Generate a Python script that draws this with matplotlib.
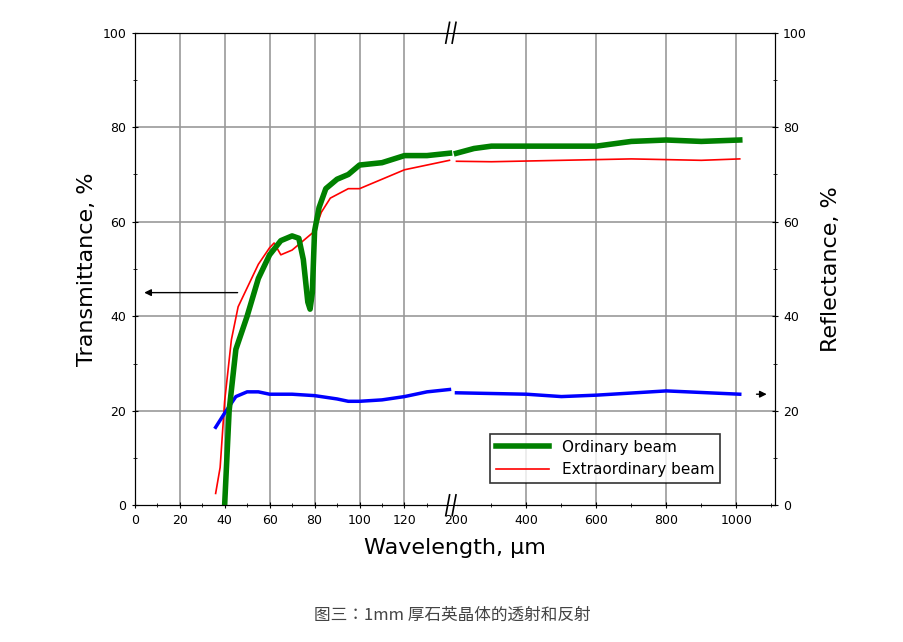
import matplotlib
matplotlib.use("Agg")
import matplotlib.pyplot as plt
import numpy as np

# wavelength (um) and values (%)
ord_x = [40, 42, 45, 50, 55, 60, 65, 70, 73, 75, 77, 78, 79, 80, 82, 85, 90, 95, 100, 110, 120, 130, 140,
         200, 250, 300, 400, 500, 600, 700, 800, 900, 1010]
ord_y = [0, 20, 33, 40, 48, 53, 56, 57, 56.5, 52, 43, 41.5, 45, 58, 63, 67, 69, 70, 72, 72.5, 74, 74, 74.5,
         74.5, 75.5, 76, 76, 76, 76, 77, 77.3, 77, 77.3]
ext_x = [36, 38, 40, 43, 46, 50, 55, 60, 62, 65, 70, 75, 80, 83, 87, 95, 100, 110, 120, 130, 140,
         200, 300, 500, 700, 900, 1010]
ext_y = [2.5, 8, 22, 35, 42, 46, 51, 54.5, 55.5, 53, 54, 56, 58, 62, 65, 67, 67, 69, 71, 72, 73,
         72.8, 72.7, 73, 73.3, 73, 73.3]
ref_x = [36, 40, 45, 50, 55, 60, 70, 80, 90, 95, 100, 110, 120, 130, 140,
         200, 400, 500, 600, 800, 1010]
ref_y = [16.5, 19.5, 23, 24, 24, 23.5, 23.5, 23.2, 22.5, 22, 22, 22.3, 23, 24, 24.5,
         23.8, 23.5, 23, 23.3, 24.2, 23.5]

left_ticks = [0, 20, 40, 60, 80, 100, 120]
right_ticks = [200, 400, 600, 800, 1000]
y_ticks = [0, 20, 40, 60, 80, 100]

def fwd(x):
    x = np.asarray(x, dtype=float)
    return np.where(x <= 170, x * 2.25, 322 + (x - 200) * 0.35)

def inv(u):
    u = np.asarray(u, dtype=float)
    return np.where(u <= 320, u / 2.25, 200 + (u - 322) / 0.35)

def split(xs, ys):
    xs = np.array(xs, float); ys = np.array(ys, float)
    a = xs <= 140
    return (xs[a], ys[a]), (xs[~a], ys[~a])

fig = plt.figure(figsize=(9.04, 6.42), dpi=100)
ax = fig.add_axes([0.149, 0.213, 0.708, 0.736])
ax.set_xscale("function", functions=(fwd, inv))
ax.set_xlim(0, 1110)
ax.set_ylim(0, 100)

for x in [20, 40, 60, 80, 100, 120, 400, 600, 800, 1000]:
    ax.axvline(x, color="#999999", lw=1.2, zorder=0)
for y in [20, 40, 60, 80]:
    ax.axhline(y, color="#999999", lw=1.2, zorder=0)

for (seg_x, seg_y), lab in zip(split(ord_x, ord_y), ["Ordinary beam", None]):
    ax.plot(seg_x, seg_y, color="#008000", lw=4, label=lab, zorder=3)
for (seg_x, seg_y), lab in zip(split(ext_x, ext_y), ["Extraordinary beam", None]):
    ax.plot(seg_x, seg_y, color="red", lw=1.2, label=lab, zorder=2)
for seg_x, seg_y in split(ref_x, ref_y):
    ax.plot(seg_x, seg_y, color="blue", lw=2.5, zorder=2)

ax.annotate("", xy=(3, 45), xytext=(47, 45),
            arrowprops=dict(arrowstyle="-|>", color="black", lw=1))
ax.annotate("", xy=(1095, 23.5), xytext=(1050, 23.5),
            arrowprops=dict(arrowstyle="-|>", color="black", lw=1))

ax.set_xticks(left_ticks + right_ticks)
ax.set_xticklabels([str(t) for t in left_ticks + right_ticks])
ax.set_xticks([10, 30, 50, 70, 90, 110, 130, 300, 500, 700, 900, 1100], minor=True)
ax.set_yticks(y_ticks)
ax.set_yticks([10, 30, 50, 70, 90], minor=True)
ax.tick_params(labelsize=9, length=5, direction="inout")
ax.tick_params(which="minor", length=3, direction="inout")

ax2 = ax.twinx()
ax2.set_ylim(0, 100)
ax2.set_yticks(y_ticks)
ax2.set_yticks([10, 30, 50, 70, 90], minor=True)
ax2.tick_params(labelsize=9, length=5, direction="inout")
ax2.tick_params(which="minor", length=3, direction="inout")

# break marks (axes coordinates)
for yy in [0, 1]:
    ax.fill_between([0.488, 0.502], yy - 0.01, yy + 0.01, color="white",
                    transform=ax.transAxes, clip_on=False, zorder=6)
    for bx in [0.489, 0.499]:
        ax.plot([bx - 0.003, bx + 0.003], [yy - 0.022, yy + 0.022], color="black", lw=1.2,
                transform=ax.transAxes, clip_on=False, zorder=7)

ax.set_xlabel("Wavelength, \u00b5m", fontsize=16, labelpad=8)
ax.set_ylabel("Transmittance, %", fontsize=16)
ax2.set_ylabel("Reflectance, %", fontsize=16, labelpad=10)

leg = ax.legend(loc="lower right", bbox_to_anchor=(0.927, 0.03), fontsize=11,
                frameon=True, fancybox=False, edgecolor="black", handlelength=3.5)
leg.get_frame().set_linewidth(1.2)

fig.text(0.5, 0.035, "图三：1mm 厚石英晶体的透射和反射", ha="center", fontsize=12,
         color="#444444", family=["Noto Sans CJK JP", "Noto Sans CJK SC", "DejaVu Sans"])

fig.savefig("out.png", dpi=100)
